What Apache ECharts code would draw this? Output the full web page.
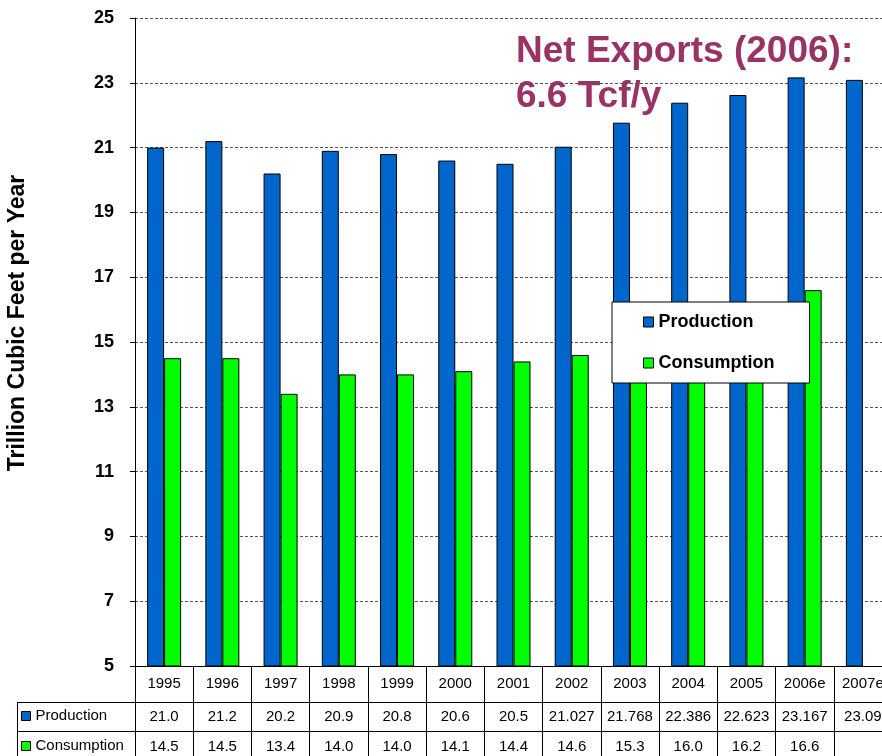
<!DOCTYPE html>
<html><head><meta charset="utf-8">
<script src="https://cdn.jsdelivr.net/npm/echarts@6/dist/echarts.min.js"></script>
<style>html,body{margin:0;padding:0;background:#fff;overflow:hidden;width:882px;height:756px}#c{width:900px;height:756px}</style>
</head><body><div id="c"></div>
<script>
const years = ['1995','1996','1997','1998','1999','2000','2001','2002','2003','2004','2005','2006e','2007e'];
const production = [21.0, 21.2, 20.2, 20.9, 20.8, 20.6, 20.5, 21.027, 21.768, 22.386, 22.623, 23.167, 23.09];
const consumption = [14.5, 14.5, 13.4, 14.0, 14.0, 14.1, 14.4, 14.6, 15.3, 16.0, 16.2, 16.6, null];
const productionLabels = ['21.0','21.2','20.2','20.9','20.8','20.6','20.5','21.027','21.768','22.386','22.623','23.167','23.09'];
const consumptionLabels = ['14.5','14.5','13.4','14.0','14.0','14.1','14.4','14.6','15.3','16.0','16.2','16.6',''];
const yMin = 5, yMax = 25, yStep = 2;
const FONT = "'Liberation Sans', Arial, sans-serif";

const chart = echarts.init(document.getElementById('c'), null, {renderer:'canvas'});
function tableAxis(offset, tickLen, margin, labels) {
  return {
    type: 'category', data: years, position: 'bottom', offset: offset,
    boundaryGap: true,
    axisLine: {show: true, lineStyle: {color: '#000', width: 1}},
    axisTick: {show: true, interval: 0, alignWithLabel: false, length: tickLen, lineStyle: {color: '#000', width: 1}},
    axisLabel: {interval: 0, margin: margin, fontSize: 15, color: '#000', fontFamily: FONT,
      formatter: labels ? function (v, i) { return labels[i]; } : null},
    splitLine: {show: false}
  };
}
chart.setOption({
  backgroundColor: '#fff',
  animation: false,
  textStyle: {fontFamily: FONT},
  grid: {left: 135, top: 18, width: 757, height: 648, containLabel: false},
  xAxis: [
    tableAxis(0, 36, 10, null),
    tableAxis(36, 29, 7, productionLabels),
    tableAxis(65, 30, 8, consumptionLabels)
  ],
  yAxis: {
    type: 'value', min: yMin, max: yMax, interval: yStep,
    axisLine: {show: true, lineStyle: {color: '#000', width: 1}},
    axisTick: {show: true, length: 5, lineStyle: {color: '#000'}},
    axisLabel: {fontSize: 18, fontWeight: 'bold', color: '#000', margin: 21, fontFamily: FONT},
    splitLine: {show: true, lineStyle: {color: '#555', type: [3, 2], width: 1}}
  },
  legend: [
    {
      data: ['Production', 'Consumption'], orient: 'vertical', left: 612, top: 302,
      backgroundColor: '#fff', borderColor: '#000', borderWidth: 1,
      padding: [10, 35, 10, 31], itemWidth: 10, itemHeight: 10, itemGap: 21,
      icon: 'rect', selectedMode: false,
      itemStyle: {borderColor: '#000', borderWidth: 1},
      textStyle: {fontSize: 18, fontWeight: 'bold', color: '#000', lineHeight: 20, fontFamily: FONT}
    },
    {
      data: ['Production', 'Consumption'], orient: 'vertical', left: 21, top: 707,
      padding: 0, itemWidth: 9, itemHeight: 9, itemGap: 12,
      icon: 'rect', selectedMode: false,
      itemStyle: {borderColor: '#000', borderWidth: 1},
      textStyle: {fontSize: 15, color: '#000', lineHeight: 18, fontFamily: FONT}
    }
  ],
  graphic: [
    {type: 'text', x: 17.5, y: 323, rotation: Math.PI / 2,
      style: {text: 'Trillion Cubic Feet per Year', font: "bold 23px " + FONT, fill: '#000', textAlign: 'center', textVerticalAlign: 'middle'}},
    {type: 'text', left: 516, top: 29,
      style: {text: 'Net Exports (2006):\n6.6 Tcf/y', font: "bold 37px " + FONT, lineHeight: 45, fill: '#993366'}},
    {type: 'line', shape: {x1: 17, y1: 702.5, x2: 135, y2: 702.5}, style: {stroke: '#000', lineWidth: 1}},
    {type: 'line', shape: {x1: 17, y1: 731.5, x2: 135, y2: 731.5}, style: {stroke: '#000', lineWidth: 1}},
    {type: 'line', shape: {x1: 17.5, y1: 702, x2: 17.5, y2: 756}, style: {stroke: '#000', lineWidth: 1}}
  ],
  series: [
    {name: 'Production', type: 'bar', data: production, barWidth: 17, barGap: '0%',
      itemStyle: {color: '#0066cc', borderColor: '#000', borderWidth: 1}},
    {name: 'Consumption', type: 'bar', data: consumption, barWidth: 17, barGap: '0%',
      itemStyle: {color: '#00ff00', borderColor: '#000', borderWidth: 1}}
  ]
});
</script></body></html>
